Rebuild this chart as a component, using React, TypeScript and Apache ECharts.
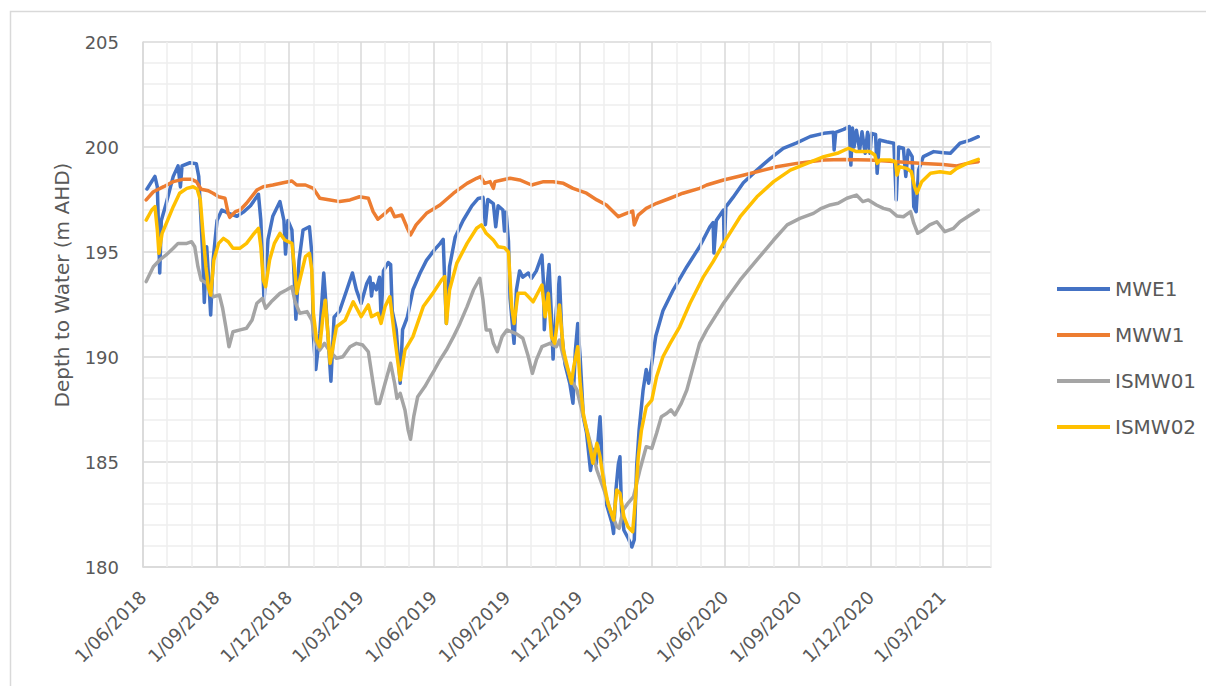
import React, { useEffect, useRef } from "react";
import * as echarts from "echarts";

const seriesNames = ["MWE1", "MWW1", "ISMW01", "ISMW02"];
const seriesColors = ["#4472C4", "#ED7D31", "#A5A5A5", "#FFC000"];

const xTickLabels = ["1/06/2018","1/09/2018","1/12/2018","1/03/2019","1/06/2019","1/09/2019","1/12/2019","1/03/2020","1/06/2020","1/09/2020","1/12/2020","1/03/2021"];
const xStart = "2018-06-01";
const xEnd = "2021-05-01";
const yMin = 180;
const yMax = 205;
const yStep = 5;

const mwe1Dates = ['2018-06-06','2018-06-16','2018-06-19','2018-06-22','2018-06-24','2018-06-30','2018-07-09','2018-07-15','2018-07-18','2018-07-20','2018-07-30','2018-08-07','2018-08-10','2018-08-15','2018-08-17','2018-08-20','2018-08-23','2018-08-25','2018-08-28','2018-09-02','2018-09-08','2018-09-16','2018-09-27','2018-10-05','2018-10-14','2018-10-24','2018-10-27','2018-10-31','2018-11-05','2018-11-11','2018-11-20','2018-11-25','2018-11-27','2018-11-30','2018-12-05','2018-12-08','2018-12-10','2018-12-14','2018-12-19','2018-12-27','2018-12-30','2019-01-01','2019-01-04','2019-01-09','2019-01-14','2019-01-17','2019-01-23','2019-01-27','2019-02-03','2019-02-12','2019-02-19','2019-02-24','2019-03-02','2019-03-09','2019-03-13','2019-03-15','2019-03-17','2019-03-21','2019-03-25','2019-03-27','2019-03-30','2019-04-05','2019-04-08','2019-04-10','2019-04-15','2019-04-20','2019-04-23','2019-04-29','2019-05-06','2019-05-15','2019-05-23','2019-06-02','2019-06-09','2019-06-13','2019-06-15','2019-06-17','2019-06-21','2019-06-28','2019-07-08','2019-07-19','2019-07-27','2019-08-02','2019-08-05','2019-08-08','2019-08-15','2019-08-18','2019-08-21','2019-08-27','2019-08-29','2019-08-31','2019-09-03','2019-09-05','2019-09-10','2019-09-13','2019-09-17','2019-09-21','2019-09-28','2019-10-02','2019-10-08','2019-10-15','2019-10-17','2019-10-18','2019-10-21','2019-10-24','2019-10-27','2019-10-29','2019-11-02','2019-11-06','2019-11-09','2019-11-13','2019-11-19','2019-11-23','2019-11-26','2019-11-29','2019-12-02','2019-12-06','2019-12-10','2019-12-15','2019-12-19','2019-12-22','2019-12-27','2019-12-29','2020-01-01','2020-01-04','2020-01-11','2020-01-13','2020-01-16','2020-01-19','2020-01-21','2020-01-23','2020-01-26','2020-01-31','2020-02-05','2020-02-08','2020-02-11','2020-02-14','2020-02-19','2020-02-23','2020-02-26','2020-03-01','2020-03-06','2020-03-15','2020-03-28','2020-04-14','2020-04-30','2020-05-13','2020-05-17','2020-05-18','2020-05-21','2020-05-30','2020-05-31','2020-06-02','2020-06-11','2020-06-24','2020-07-11','2020-07-28','2020-08-13','2020-08-30','2020-09-16','2020-10-03','2020-10-15','2020-10-16','2020-10-18','2020-10-28','2020-11-04','2020-11-06','2020-11-08','2020-11-10','2020-11-13','2020-11-17','2020-11-20','2020-11-24','2020-11-27','2020-11-30','2020-12-02','2020-12-07','2020-12-09','2020-12-12','2020-12-21','2020-12-30','2021-01-02','2021-01-05','2021-01-11','2021-01-14','2021-01-17','2021-01-22','2021-01-24','2021-01-27','2021-01-30','2021-02-05','2021-02-18','2021-03-02','2021-03-11','2021-03-23','2021-04-05','2021-04-15'];
const mwe1Values = [198.0,198.6,198.1,194.0,196.5,197.3,198.6,199.1,198.1,199.1,199.25,199.2,198.6,194.9,192.6,195.25,193.35,192.0,194.6,196.5,197.0,196.85,196.7,196.9,197.2,197.75,196.5,192.7,195.6,196.7,197.4,196.5,194.9,196.5,196.05,193.7,191.8,194.6,196.05,196.2,194.95,191.0,189.4,191.1,194.0,192.4,188.85,191.9,192.2,193.2,194.0,193.2,192.55,193.5,193.8,192.9,193.5,193.2,193.8,191.9,194.1,194.5,194.4,192.2,191.3,188.75,191.3,191.9,193.2,194.0,194.6,195.1,195.4,195.6,193.5,191.6,194.3,195.7,196.5,197.2,197.55,197.6,196.3,197.5,197.3,196.2,197.2,197.0,196.0,196.9,195.5,192.8,190.65,193.2,194.1,193.8,194.0,193.75,194.1,194.85,193.5,191.3,193.2,194.4,191.9,189.9,192.2,193.8,191.1,189.65,188.75,187.8,190.3,191.6,190.0,187.15,186.4,184.6,185.6,184.9,187.15,185.6,183.95,183.0,182.1,181.6,183.7,184.9,185.25,182.7,181.75,181.4,180.95,181.3,184.8,186.5,188.4,189.4,188.75,189.7,191.0,192.2,193.2,194.3,195.25,196.2,196.4,194.95,196.5,197.0,195.25,197.15,197.6,198.3,198.9,199.46,199.94,200.2,200.5,200.65,200.7,199.86,200.7,200.84,200.97,199.14,200.9,200.0,200.8,199.86,200.73,199.7,200.7,199.7,200.65,200.6,198.75,200.33,200.25,200.18,197.48,200.0,199.94,198.6,199.86,199.54,197.16,196.92,198.9,199.54,199.78,199.73,199.7,200.18,200.33,200.49];

const mww1Dates = ['2018-06-05','2018-06-14','2018-06-27','2018-07-09','2018-07-21','2018-08-01','2018-08-07','2018-08-13','2018-08-22','2018-08-28','2018-09-04','2018-09-12','2018-09-16','2018-09-18','2018-09-25','2018-10-01','2018-10-09','2018-10-22','2018-10-30','2018-11-11','2018-11-24','2018-12-05','2018-12-11','2018-12-22','2019-01-01','2019-01-09','2019-01-22','2019-02-03','2019-02-16','2019-02-28','2019-03-11','2019-03-17','2019-03-23','2019-04-01','2019-04-08','2019-04-13','2019-04-22','2019-04-29','2019-05-03','2019-05-10','2019-05-23','2019-06-09','2019-06-26','2019-07-13','2019-07-25','2019-07-30','2019-08-04','2019-08-11','2019-08-15','2019-08-17','2019-08-26','2019-09-05','2019-09-17','2019-10-02','2019-10-17','2019-10-29','2019-11-11','2019-11-23','2019-12-10','2019-12-23','2020-01-04','2020-01-19','2020-01-29','2020-02-06','2020-02-08','2020-02-13','2020-02-23','2020-03-07','2020-03-24','2020-04-09','2020-04-30','2020-05-09','2020-05-30','2020-06-20','2020-07-11','2020-08-05','2020-08-30','2020-10-03','2020-10-28','2020-11-30','2021-01-03','2021-02-05','2021-03-02','2021-03-19','2021-04-01','2021-04-15'];
const mww1Values = [197.48,197.87,198.11,198.35,198.46,198.46,198.35,197.99,197.92,197.8,197.63,197.56,196.84,196.65,196.92,197.0,197.32,197.95,198.11,198.19,198.3,198.38,198.19,198.19,198.03,197.56,197.48,197.4,197.48,197.63,197.56,196.92,196.56,196.84,197.08,196.68,196.76,196.13,195.81,196.29,196.84,197.24,197.8,198.27,198.51,198.59,198.27,198.35,198.03,198.35,198.43,198.51,198.43,198.19,198.35,198.35,198.27,198.03,197.8,197.48,197.24,196.68,196.84,196.95,196.29,196.76,197.08,197.32,197.56,197.8,198.03,198.19,198.43,198.62,198.82,199.06,199.22,199.38,199.41,199.38,199.3,199.22,199.17,199.1,199.22,199.3];

const ismw01Dates = ['2018-06-05','2018-06-14','2018-06-22','2018-06-30','2018-07-09','2018-07-15','2018-07-26','2018-08-01','2018-08-05','2018-08-09','2018-08-13','2018-08-20','2018-08-28','2018-09-05','2018-09-09','2018-09-13','2018-09-17','2018-09-22','2018-10-01','2018-10-09','2018-10-16','2018-10-22','2018-10-29','2018-11-02','2018-11-09','2018-11-20','2018-11-28','2018-12-05','2018-12-09','2018-12-15','2018-12-24','2018-12-30','2019-01-03','2019-01-09','2019-01-15','2019-01-22','2019-01-30','2019-02-07','2019-02-16','2019-02-24','2019-03-04','2019-03-11','2019-03-17','2019-03-21','2019-03-25','2019-04-01','2019-04-08','2019-04-13','2019-04-16','2019-04-20','2019-04-26','2019-04-30','2019-05-03','2019-05-07','2019-05-12','2019-05-21','2019-05-28','2019-06-02','2019-06-09','2019-06-17','2019-06-26','2019-07-04','2019-07-13','2019-07-21','2019-07-29','2019-08-02','2019-08-06','2019-08-11','2019-08-15','2019-08-20','2019-08-26','2019-09-01','2019-09-07','2019-09-13','2019-09-21','2019-09-28','2019-10-03','2019-10-08','2019-10-15','2019-10-25','2019-11-02','2019-11-06','2019-11-11','2019-11-21','2019-11-28','2019-12-06','2019-12-15','2019-12-23','2020-01-01','2020-01-09','2020-01-17','2020-01-20','2020-01-25','2020-01-31','2020-02-07','2020-02-15','2020-02-23','2020-03-01','2020-03-07','2020-03-13','2020-03-20','2020-03-25','2020-03-30','2020-04-07','2020-04-14','2020-04-22','2020-04-30','2020-05-09','2020-05-30','2020-06-20','2020-07-11','2020-08-01','2020-08-18','2020-09-03','2020-09-20','2020-09-30','2020-10-11','2020-10-21','2020-11-01','2020-11-13','2020-11-21','2020-11-28','2020-12-08','2020-12-17','2020-12-25','2021-01-03','2021-01-11','2021-01-20','2021-01-24','2021-01-29','2021-02-05','2021-02-13','2021-02-22','2021-03-04','2021-03-15','2021-03-23','2021-04-05','2021-04-15'];
const ismw01Values = [193.59,194.3,194.62,194.86,195.18,195.41,195.41,195.49,195.25,194.3,193.67,193.51,192.87,192.95,192.32,191.44,190.49,191.2,191.29,191.37,191.76,192.56,192.79,192.32,192.63,193.03,193.19,193.35,192.63,192.08,192.16,191.76,190.81,190.33,190.65,190.25,189.94,190.01,190.49,190.65,190.57,190.25,188.75,187.79,187.79,188.75,189.7,188.75,188.03,188.27,187.48,186.52,186.08,187.16,188.11,188.59,189.06,189.38,189.86,190.33,190.97,191.6,192.4,193.19,193.75,192.71,191.29,191.29,190.65,190.25,190.97,191.29,191.2,191.1,190.89,190.01,189.22,189.86,190.49,190.65,190.49,190.81,190.01,188.9,188.43,187.16,185.89,184.62,183.67,182.71,181.92,181.84,182.71,183.03,183.35,184.62,185.73,185.65,186.37,187.16,187.32,187.48,187.24,187.79,188.43,189.54,190.65,191.29,192.56,193.67,194.62,195.57,196.29,196.6,196.84,197.08,197.24,197.32,197.56,197.71,197.4,197.48,197.24,197.08,197.0,196.71,196.68,196.92,196.37,195.89,196.05,196.29,196.44,195.97,196.13,196.44,196.76,197.0];

const ismw02Dates = ['2018-06-05','2018-06-12','2018-06-16','2018-06-19','2018-06-21','2018-06-25','2018-07-02','2018-07-09','2018-07-17','2018-07-26','2018-08-03','2018-08-08','2018-08-12','2018-08-15','2018-08-19','2018-08-22','2018-08-25','2018-08-29','2018-09-04','2018-09-10','2018-09-16','2018-09-22','2018-10-01','2018-10-09','2018-10-17','2018-10-24','2018-10-27','2018-10-30','2018-11-02','2018-11-07','2018-11-13','2018-11-20','2018-11-26','2018-12-05','2018-12-09','2018-12-11','2018-12-15','2018-12-22','2018-12-27','2018-12-30','2019-01-01','2019-01-05','2019-01-09','2019-01-13','2019-01-16','2019-01-22','2019-01-30','2019-02-10','2019-02-20','2019-03-02','2019-03-11','2019-03-15','2019-03-23','2019-03-27','2019-04-01','2019-04-07','2019-04-13','2019-04-20','2019-04-26','2019-05-06','2019-05-19','2019-05-31','2019-06-11','2019-06-15','2019-06-17','2019-06-21','2019-06-30','2019-07-13','2019-07-25','2019-07-31','2019-08-06','2019-08-15','2019-08-21','2019-08-29','2019-09-03','2019-09-07','2019-09-10','2019-09-15','2019-09-24','2019-10-04','2019-10-15','2019-10-19','2019-10-23','2019-10-27','2019-10-31','2019-11-06','2019-11-11','2019-11-15','2019-11-21','2019-11-24','2019-11-29','2019-12-02','2019-12-06','2019-12-12','2019-12-18','2019-12-23','2019-12-27','2020-01-01','2020-01-06','2020-01-13','2020-01-17','2020-01-21','2020-01-26','2020-01-31','2020-02-06','2020-02-09','2020-02-13','2020-02-17','2020-02-23','2020-03-01','2020-03-07','2020-03-15','2020-03-24','2020-04-05','2020-04-18','2020-05-05','2020-05-17','2020-05-30','2020-06-20','2020-07-11','2020-08-01','2020-08-22','2020-09-12','2020-10-03','2020-10-20','2020-11-03','2020-11-13','2020-11-30','2020-12-06','2020-12-09','2020-12-13','2020-12-25','2021-01-01','2021-01-03','2021-01-06','2021-01-15','2021-01-21','2021-01-25','2021-01-28','2021-02-03','2021-02-14','2021-02-26','2021-03-11','2021-03-19','2021-04-01','2021-04-15'];
const ismw02Values = [196.52,197.0,197.16,196.05,194.94,195.89,196.52,197.16,197.8,198.03,198.11,198.0,197.48,196.05,194.3,193.35,192.95,194.62,195.41,195.65,195.49,195.18,195.18,195.41,195.81,196.13,195.25,193.67,193.35,194.62,195.41,195.89,195.57,195.41,193.99,193.03,193.67,194.78,194.94,194.14,192.08,190.81,190.49,191.92,192.7,189.7,191.44,191.76,192.63,191.92,192.48,191.92,192.08,191.6,192.4,192.87,190.97,188.9,190.33,190.97,192.4,193.03,193.67,193.83,191.6,193.19,194.46,195.41,196.13,196.29,195.89,195.57,195.25,195.2,195.0,192.4,191.6,193.03,193.03,192.63,193.43,191.92,193.03,190.97,190.65,192.48,190.33,189.7,188.75,189.54,190.49,188.75,187.32,186.21,184.94,185.89,185.25,183.99,183.03,182.24,183.67,183.51,182.4,181.92,181.68,183.03,185.25,186.52,187.63,187.95,189.06,190.01,190.65,191.44,192.56,193.83,194.54,195.41,196.68,197.63,198.35,198.9,199.22,199.54,199.7,199.94,199.78,199.78,199.62,199.22,199.38,199.38,199.3,198.67,199.06,198.98,198.82,198.11,197.8,198.35,198.75,198.82,198.75,198.98,199.22,199.41];

const FONT = "DejaVu Sans";
const TEXT_COLOR = "#595959";

function ts(s: string): number {
  const [y, m, d] = s.split("-").map(Number);
  return new Date(y, m - 1, d).getTime();
}
function tsFromLabel(s: string): number {
  const [d, m, y] = s.split("/").map(Number);
  return new Date(y, m - 1, d).getTime();
}
function zip(dates: string[], values: number[]) {
  const n = Math.min(dates.length, values.length);
  const out: [number, number][] = [];
  for (let i = 0; i < n; i++) out.push([ts(dates[i]), values[i]]);
  return out;
}
function fmt(v: number): string {
  const d = new Date(v);
  const mm = String(d.getMonth() + 1).padStart(2, "0");
  return `${d.getDate()}/${mm}/${d.getFullYear()}`;
}

export default function App() {
  const ref = useRef<HTMLDivElement>(null);
  useEffect(() => {
    if (!ref.current) return;
    const chart = echarts.init(ref.current, undefined, { renderer: "svg" });

    const xMin = ts(xStart);
    const xMax = ts(xEnd);
    const gridLines: any[] = [];
    const s = new Date(xMin);
    let k = 0;
    while (true) {
      const d = new Date(s.getFullYear(), s.getMonth() + k, 1);
      const t = d.getTime();
      if (t > xMax) break;
      const major = k % 3 === 0;
      gridLines.push({
        xAxis: t,
        lineStyle: { color: major ? "#d9d9d9" : "#eeeeee", width: 1.5, type: "solid" },
      });
      k++;
    }

    const allData = [
      zip(mwe1Dates, mwe1Values),
      zip(mww1Dates, mww1Values),
      zip(ismw01Dates, ismw01Values),
      zip(ismw02Dates, ismw02Values),
    ];

    const series: any[] = [
      {
        name: "grid",
        type: "line",
        data: [],
        z: 1,
        silent: true,
        markLine: {
          silent: true,
          symbol: ["none", "none"],
          label: { show: false },
          emphasis: { disabled: true },
          animation: false,
          data: gridLines,
        },
      },
    ];
    seriesNames.forEach((n, i) => {
      series.push({
        name: n,
        type: "line",
        data: allData[i],
        showSymbol: false,
        symbol: "none",
        z: 3 + i,
        lineStyle: { color: seriesColors[i], width: 3.5, join: "round", cap: "round" },
        itemStyle: { color: seriesColors[i] },
        emphasis: { disabled: true },
      });
    });

    chart.setOption({
      animation: false,
      backgroundColor: "#ffffff",
      grid: { left: 143, right: 215, top: 42, bottom: 119, containLabel: false },
      legend: {
        data: seriesNames,
        orient: "vertical",
        left: 1052,
        top: 274,
        itemWidth: 53,
        itemHeight: 4,
        itemGap: 26,
        icon: "rect",
        textStyle: { fontFamily: FONT, fontSize: 20, color: TEXT_COLOR, lineHeight: 20 },
        selectedMode: false,
      },
      xAxis: {
        type: "value",
        min: xMin,
        max: xMax,
        scale: true,
        axisLine: { show: true, lineStyle: { color: "#d9d9d9", width: 1.5 } },
        axisTick: { show: false },
        splitLine: { show: false },
        axisLabel: {
          customValues: xTickLabels.map(tsFromLabel),
          formatter: (v: number) => fmt(v),
          rotate: 45,
          margin: 27,
          hideOverlap: false,
          showMinLabel: true,
          showMaxLabel: true,
          fontFamily: FONT,
          fontSize: 18,
          color: TEXT_COLOR,
        },
      },
      yAxis: {
        type: "value",
        min: yMin,
        max: yMax,
        interval: yStep,
        axisLine: { show: true, lineStyle: { color: "#d9d9d9", width: 1.5 } },
        axisTick: { show: false },
        minorTick: { show: false, splitNumber: 5 },
        splitLine: { show: true, lineStyle: { color: "#d9d9d9", width: 1.5 } },
        minorSplitLine: { show: true, lineStyle: { color: "#eeeeee", width: 1.5 } },
        axisLabel: { margin: 24, fontFamily: FONT, fontSize: 18, color: TEXT_COLOR },
      },
      graphic: [
        {
          type: "rect",
          shape: { x: 10.5, y: 11.5, width: 1400, height: 900 },
          style: { fill: "none", stroke: "#d9d9d9", lineWidth: 1.5 },
          silent: true,
          z: -1,
        },
        {
          type: "text",
          x: 62,
          y: 285,
          rotation: Math.PI / 2,
          style: {
            text: "Depth to Water (m AHD)",
            fontFamily: FONT,
            fontSize: 20,
            fill: TEXT_COLOR,
            align: "center",
            verticalAlign: "middle",
          },
          silent: true,
        },
      ],
      series,
    });
    return () => chart.dispose();
  }, []);
  return (
    <div
      ref={ref}
      style={{ position: "fixed", left: 0, top: 0, width: 1206, height: 686, background: "#fff" }}
    />
  );
}
